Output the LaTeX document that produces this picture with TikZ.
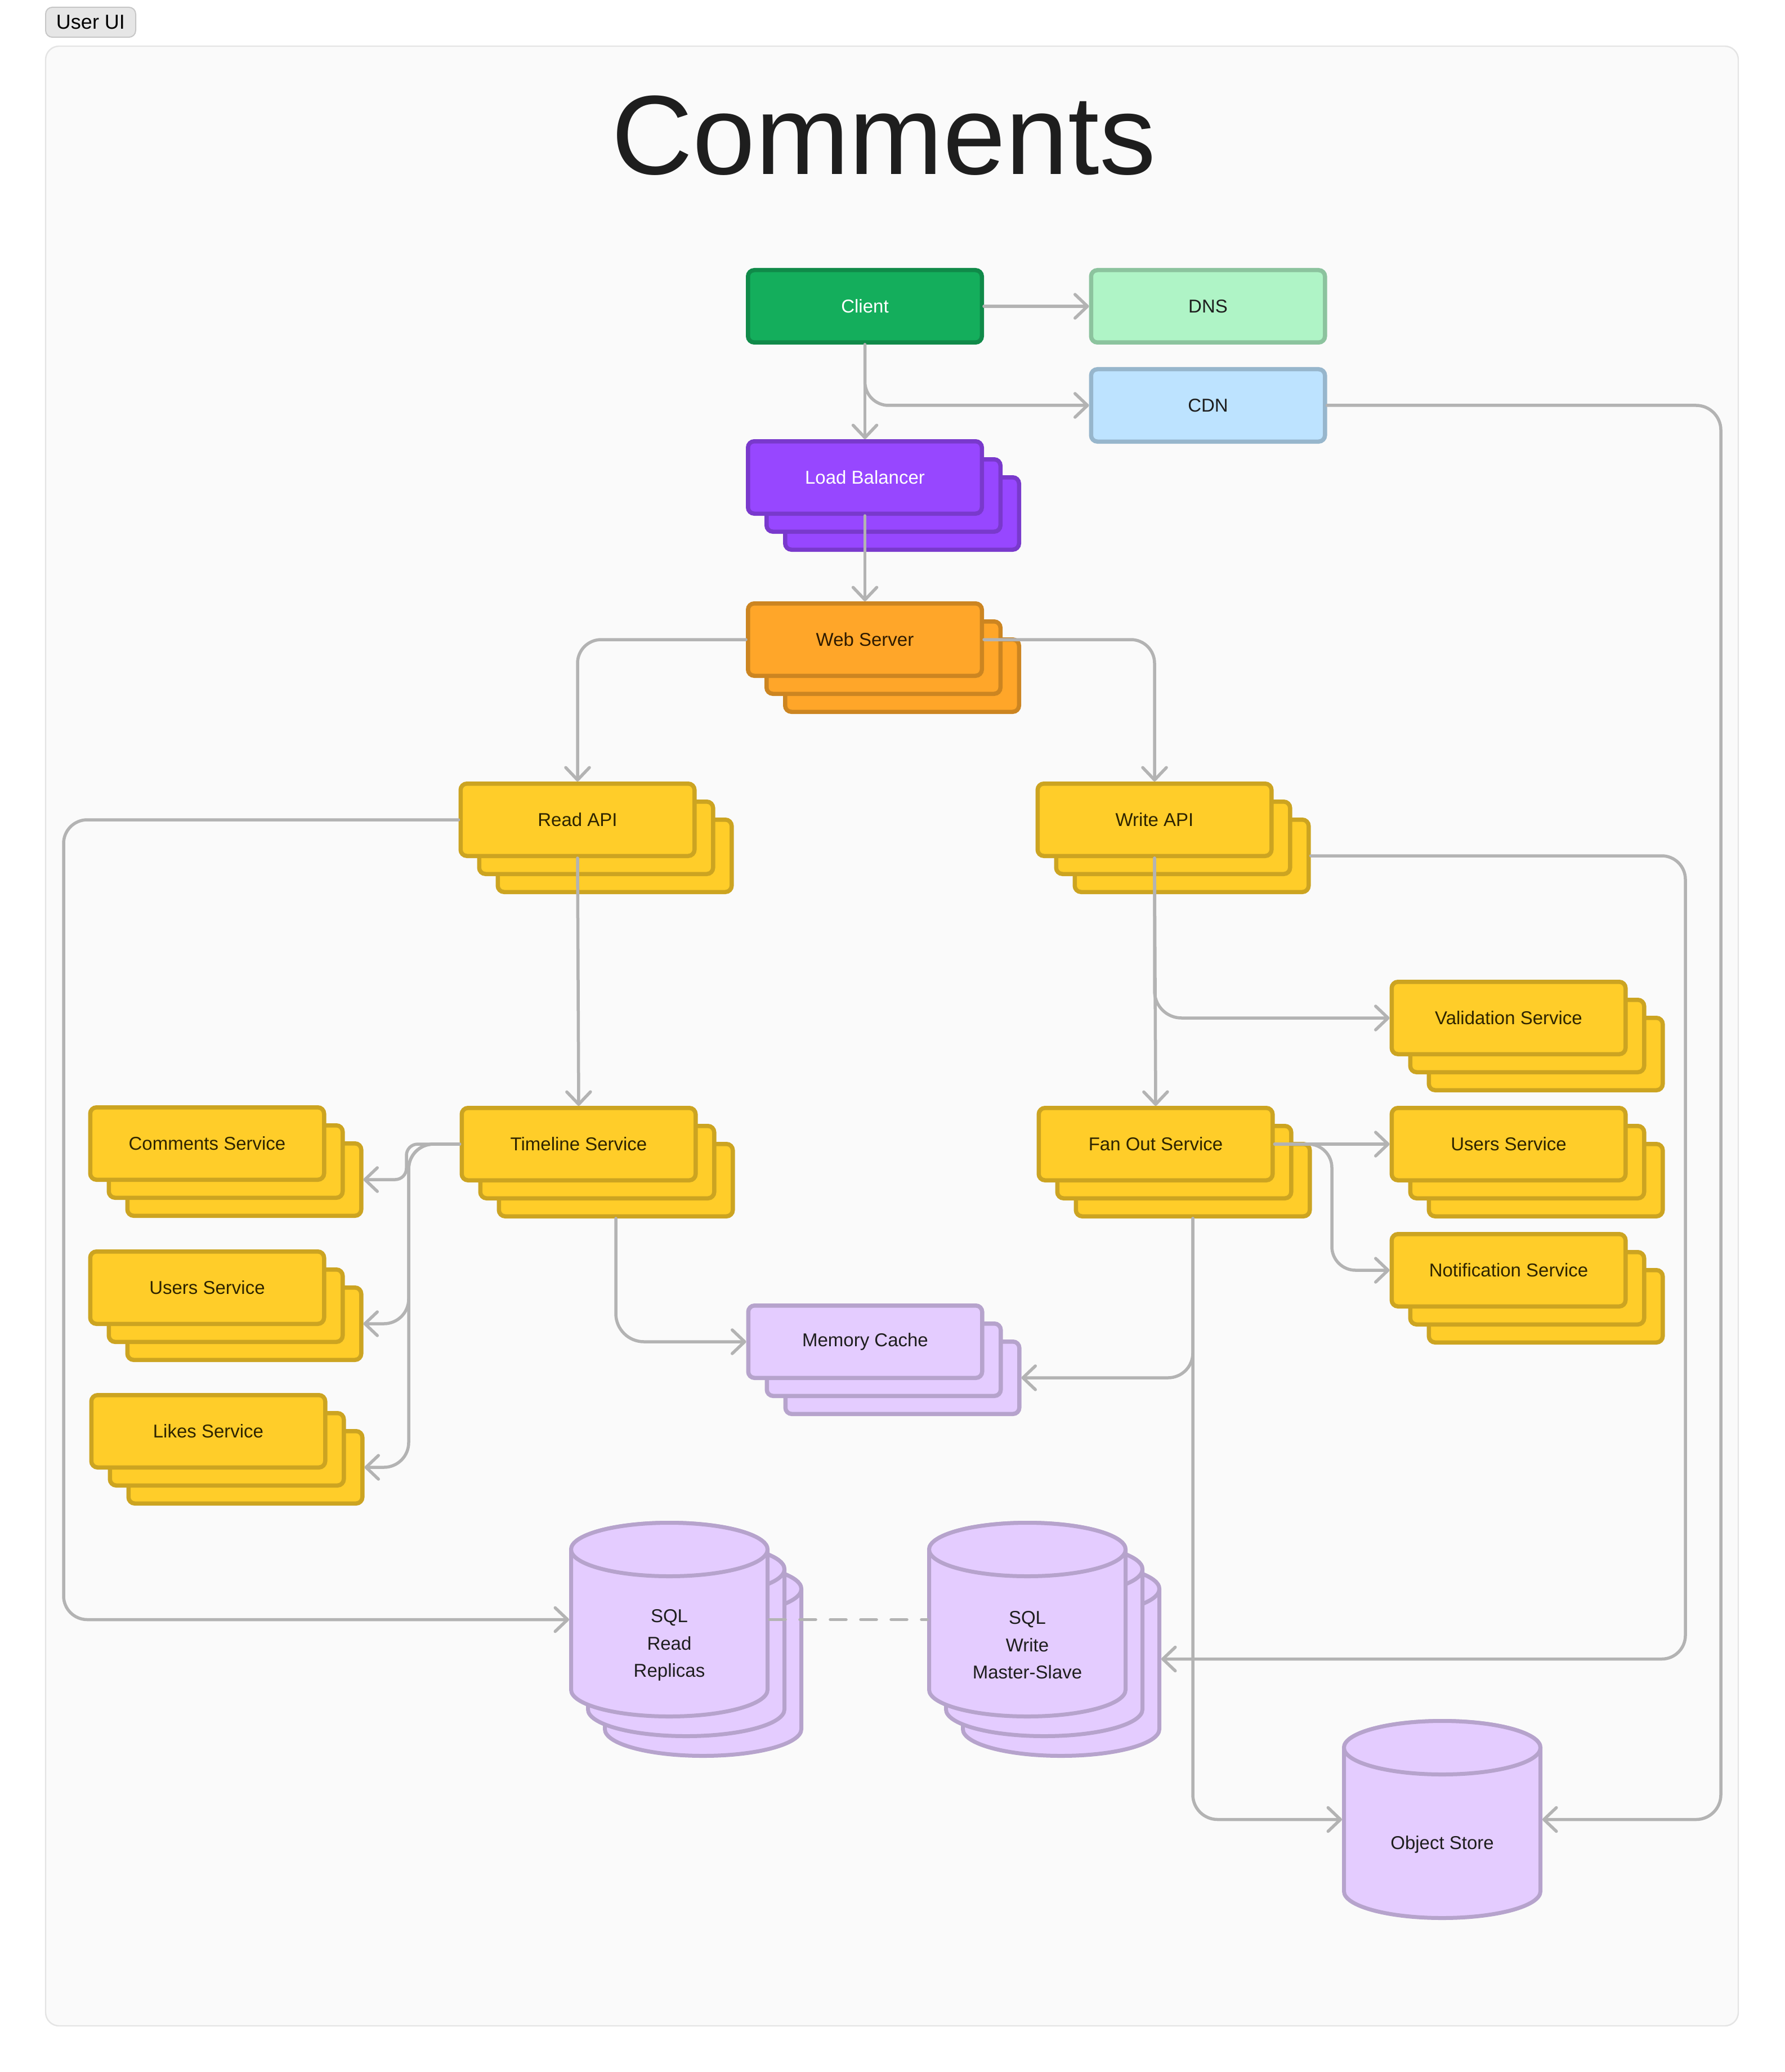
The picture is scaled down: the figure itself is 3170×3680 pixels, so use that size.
\documentclass[tikz,border=0pt]{standalone}
\usepackage{fontspec}
\setmainfont{Liberation Sans}
\usetikzlibrary{arrows.meta}
\definecolor{cgray}{HTML}{B3B3B3}
\definecolor{frfill}{HTML}{FAFAFA}
\definecolor{frline}{HTML}{E4E4E4}
\definecolor{tagfill}{HTML}{E6E6E6}
\definecolor{tagline}{HTML}{C7C7C7}
\definecolor{txtdark}{HTML}{1E1E1E}
\definecolor{gfill}{HTML}{14AE5C}
\definecolor{gline}{HTML}{108A49}
\definecolor{lgfill}{HTML}{AFF4C6}
\definecolor{lgline}{HTML}{8CC39E}
\definecolor{lbfill}{HTML}{BDE3FF}
\definecolor{lbline}{HTML}{97B6CC}
\definecolor{pfill}{HTML}{9747FF}
\definecolor{pline}{HTML}{7939CC}
\definecolor{ofill}{HTML}{FFA629}
\definecolor{oline}{HTML}{CC8521}
\definecolor{ofont}{HTML}{2E1A00}
\definecolor{yfill}{HTML}{FFCD29}
\definecolor{yline}{HTML}{CCA421}
\definecolor{yfont}{HTML}{2E2400}
\definecolor{lpfill}{HTML}{E4CCFF}
\definecolor{lpline}{HTML}{B6A3CC}
\newcommand\bxfont{\fontsize{8.25pt}{12pt}\selectfont}
\tikzset{
  box/.style={rectangle, draw, rounded corners=2.8pt, minimum width=103.875pt,
    minimum height=32.125pt, line width=1.875pt, inner sep=0pt, font=\bxfont, align=center},
  gbox/.style={box, draw=gline, fill=gfill, text=white},
  lgbox/.style={box, draw=lgline, fill=lgfill, text=txtdark},
  lbbox/.style={box, draw=lbline, fill=lbfill, text=txtdark},
  pbox/.style={box, draw=pline, fill=pfill, text=white},
  obox/.style={box, draw=oline, fill=ofill, text=ofont},
  ybox/.style={box, draw=yline, fill=yfill, text=yfont},
  lpbox/.style={box, draw=lpline, fill=lpfill, text=txtdark},
  dbstyle/.style={draw=lpline, fill=lpfill, line width=1.75pt},
  dbnode/.style={rectangle, inner sep=0pt, outer sep=0pt, minimum width=89pt},
  dbtext/.style={font=\fontsize{8.25pt}{12.1pt}\selectfont, text=txtdark, align=center, inner sep=0pt},
  conn/.style={draw=cgray, line width=1.375pt, line cap=round, rounded corners=10.5pt,
    -{Straight Barb[length=5.5pt,width=10.5pt,round]}},
  dashline/.style={draw=cgray, line width=1.375pt, line cap=round, dash pattern=on 7pt off 6.5pt},
  tagbox/.style={rectangle, draw=tagline, fill=tagfill, line width=0.5pt, rounded corners=3pt,
    minimum width=40pt, minimum height=13.3pt, inner sep=0pt, text=black,
    font=\fontsize{9pt}{11pt}\selectfont},
}
% stacked box: style, name, x, y, text
\newcommand\stk[5]{%
  \node[#1] (#2-3) at ({#3+66},{#4+64}) {};
  \node[#1] (#2-2) at ({#3+33},{#4+32}) {};
  \node[#1] (#2) at (#3,#4) {#5};}
% database cylinder: centre x, centre y, half outer height
\newcommand\dbcyl[3]{%
  \pgfmathsetmacro\cyT{#2-#3+51}%
  \pgfmathsetmacro\cyB{#2+#3-51}%
  \filldraw[dbstyle] ({#1-174.5},\cyT) -- ({#1-174.5},\cyB)
    arc[start angle=180,end angle=360,x radius=43.625pt,y radius=11.875pt]
    -- ({#1+174.5},\cyT)
    arc[start angle=0,end angle=180,x radius=43.625pt,y radius=11.875pt] -- cycle;
  \draw[dbstyle] (#1,\cyT) ellipse[x radius=43.625pt,y radius=11.875pt];}
\begin{document}
\begin{tikzpicture}[x=0.25pt,y=-0.25pt]
\useasboundingbox (0,0) rectangle (3170,3680);
\fill[white] (0,0) rectangle (3170,3680);
\draw[draw=frline, fill=frfill, line width=0.6pt, rounded corners=6pt] (81,82) rectangle (3088,3598);
\node[tagbox] (tag) at (161,39.5) {User UI};
\node[anchor=base, inner sep=0pt, text=txtdark, font=\fontsize{50pt}{60pt}\selectfont] (title) at (1570,310) {Comments};

% single boxes
\node[gbox] (cl) at (1536.5,544) {Client};
\node[lgbox] (dns) at (2146,544) {DNS};
\node[lbbox] (cdn) at (2146,720) {CDN};
% stacked boxes
\stk{pbox}{lb}{1536.5}{848}{Load Balancer}
\stk{obox}{ws}{1536.5}{1136}{Web Server}
\stk{ybox}{ra}{1026}{1456}{Read API}
\stk{ybox}{wa}{2051}{1456}{Write API}
\stk{ybox}{val}{2680}{1808}{Validation Service}
\stk{ybox}{cm}{368}{2031}{Comments Service}
\stk{ybox}{tl}{1028}{2032}{Timeline Service}
\stk{ybox}{fo}{2053}{2032}{Fan Out Service}
\stk{ybox}{usr}{2680}{2032}{Users Service}
\stk{ybox}{nt}{2680}{2256}{Notification Service}
\stk{ybox}{usl}{368}{2287}{Users Service}
\stk{lpbox}{mc}{1537}{2383}{Memory Cache}
\stk{ybox}{lk}{370}{2542}{Likes Service}

% databases
\dbcyl{1249}{2946.5}{175.5}
\dbcyl{1219}{2911.5}{175.5}
\dbcyl{1189}{2876.5}{175.5}
\node[dbnode, minimum height=87.75pt] (sr) at (1189,2876.5) {};
\node[dbtext] (srt) at (1189,2922) {SQL\\Read\\Replicas};
\dbcyl{1885}{2946.5}{175.5}
\dbcyl{1855}{2911.5}{175.5}
\dbcyl{1825}{2876.5}{175.5}
\node[dbnode, minimum height=87.75pt] (sw-3) at (1885,2946.5) {};
\node[dbnode, minimum height=87.75pt] (sw) at (1825,2876.5) {};
\node[dbtext] (swt) at (1825,2922) {SQL\\Write\\Master-Slave};
\dbcyl{2562}{3231.5}{178.5}
\node[dbnode, minimum height=89.25pt] (os) at (2562,3231.5) {};
\node[dbtext] (ost) at (2562,3276) {Object Store};

% connectors
\draw[conn] (cl.east) -- (dns.west);
\draw[conn] (cl.south) |- (cdn.west);
\draw[conn] (cl.south) -- (lb.north);
\draw[conn] (lb.south) -- (ws.north);
\draw[conn] (ws.west) -| (ra.north);
\draw[conn] (ws.east) -| (wa.north);
\draw[conn] (ra.south) -- (tl.north);
\draw[conn] (wa.south) -- (fo.north);
\draw[conn, rounded corners=12pt] (wa.south) |- (val.west);
\draw[conn] (ra.west) -- (113,1456) |- (sr.west);
\draw[conn] (wa-3.east) -- (2994,1520) |- (sw-3.east);
\draw[conn, rounded corners=11pt] (cdn.east) -- (3057,720) |- (os.east);
\draw[conn, rounded corners=5pt] (tl.west) -- (722,2032) |- (cm-3.east);
\draw[conn, rounded corners=11pt] (tl.west) -- (726,2032) |- (usl-3.east);
\draw[conn, rounded corners=11pt] (tl.west) -- (726,2032) |- (lk-3.east);
\draw[conn, rounded corners=12.5pt] (tl-3.south) |- (mc.west);
\draw[conn] (fo.east) -- (usr.west);
\draw[conn] (fo.east) -- (2366,2032) |- (nt.west);
\draw[conn, rounded corners=11pt] (fo-3.south) |- (mc-3.east);
\draw[conn, rounded corners=11pt] (fo-3.south) |- (os.west);
\draw[dashline] (sr.east) -- (sw.west);
\end{tikzpicture}
\end{document}
